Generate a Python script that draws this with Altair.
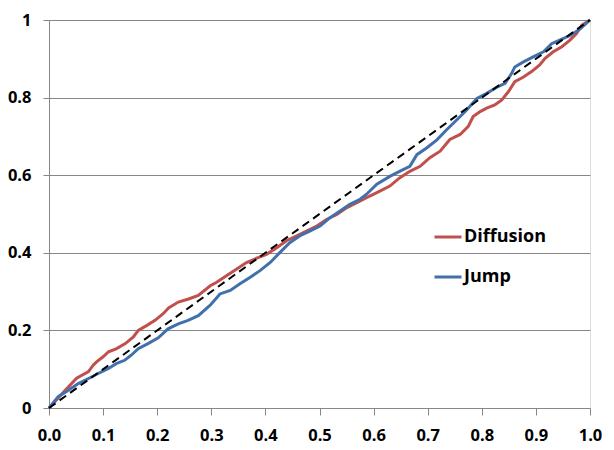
import altair as alt
import pandas as pd

# Diffusion (red) series
diff_x = [0, 0.030, 0.051, 0.073, 0.082, 0.088, 0.100, 0.110, 0.125, 0.141, 0.156, 0.165, 0.181, 0.196,
          0.211, 0.221, 0.239, 0.258, 0.276, 0.298, 0.310, 0.328, 0.347, 0.365, 0.384, 0.402, 0.421, 0.439,
          0.458, 0.476, 0.495, 0.513, 0.532, 0.550, 0.569, 0.587, 0.606, 0.630, 0.648, 0.667, 0.686, 0.704,
          0.723, 0.741, 0.760, 0.775, 0.784, 0.797, 0.809, 0.824, 0.837, 0.849, 0.861, 0.877, 0.892, 0.907,
          0.917, 0.932, 0.948, 0.963, 0.975, 0.985, 1.0]
diff_y = [0, 0.046, 0.077, 0.094, 0.111, 0.119, 0.132, 0.145, 0.153, 0.166, 0.183, 0.200, 0.213, 0.226,
          0.243, 0.258, 0.273, 0.281, 0.290, 0.315, 0.324, 0.341, 0.358, 0.375, 0.386, 0.396, 0.413, 0.431,
          0.444, 0.456, 0.469, 0.486, 0.499, 0.516, 0.529, 0.542, 0.555, 0.572, 0.593, 0.610, 0.623, 0.645,
          0.662, 0.692, 0.705, 0.726, 0.751, 0.764, 0.773, 0.781, 0.794, 0.815, 0.841, 0.853, 0.867, 0.884,
          0.901, 0.918, 0.931, 0.948, 0.965, 0.987, 1.0]

# Jump (blue) series
jump_x = [0, 0.017, 0.036, 0.054, 0.073, 0.091, 0.110, 0.125, 0.140, 0.152, 0.165, 0.183, 0.202, 0.220,
          0.239, 0.257, 0.276, 0.298, 0.316, 0.335, 0.353, 0.372, 0.390, 0.409, 0.427, 0.445, 0.464, 0.482,
          0.501, 0.519, 0.538, 0.556, 0.575, 0.587, 0.606, 0.630, 0.648, 0.667, 0.680, 0.698, 0.717, 0.735,
          0.754, 0.772, 0.791, 0.809, 0.827, 0.843, 0.855, 0.861, 0.877, 0.895, 0.914, 0.929, 0.948, 0.963,
          0.982, 1.0]
jump_y = [0, 0.029, 0.046, 0.063, 0.076, 0.089, 0.102, 0.115, 0.123, 0.136, 0.153, 0.166, 0.181, 0.204,
          0.217, 0.226, 0.238, 0.265, 0.294, 0.303, 0.320, 0.337, 0.354, 0.375, 0.401, 0.426, 0.444, 0.456,
          0.469, 0.490, 0.508, 0.525, 0.538, 0.551, 0.577, 0.597, 0.610, 0.623, 0.653, 0.670, 0.691, 0.717,
          0.743, 0.768, 0.798, 0.811, 0.826, 0.837, 0.862, 0.879, 0.892, 0.905, 0.918, 0.939, 0.951, 0.960,
          0.977, 1.0]

# 45-degree reference line
diag_x = [0.0, 1.0]
diag_y = [0.0, 1.0]

series_names = ["Diffusion", "Jump"]
series_colors = ["#C0504D", "#4170AA"]
x_ticks = [round(i * 0.1, 1) for i in range(11)]
y_ticks = [0, 0.2, 0.4, 0.6, 0.8, 1.0]

df = pd.concat([
    pd.DataFrame({"x": diff_x, "y": diff_y, "series": "Diffusion", "order": range(len(diff_x))}),
    pd.DataFrame({"x": jump_x, "y": jump_y, "series": "Jump", "order": range(len(jump_x))}),
])
diag = pd.DataFrame({"x": diag_x, "y": diag_y})

FONT = "Open Sans"

xscale = alt.Scale(domain=[0, 1], nice=False)
yscale = alt.Scale(domain=[0, 1], nice=False)

xaxis = alt.Axis(values=x_ticks, format=".1f", grid=False, tickSize=7, labelPadding=12,
                 labelFlush=False, labelOverlap=False,
                 labelFontSize=16.5, labelFont=FONT, labelFontWeight="bold", labelColor="#000000",
                 domainColor="#868686", tickColor="#868686", title=None)
yaxis = alt.Axis(values=y_ticks, format="~g", grid=True, gridColor="#868686", tickSize=6,
                 labelFlush=False, labelOverlap=False,
                 labelPadding=12, labelFontSize=16.5, labelFont=FONT, labelFontWeight="bold",
                 labelColor="#000000", domainColor="#868686", tickColor="#868686", title=None)

lines = alt.Chart(df).mark_line(strokeWidth=3).encode(
    x=alt.X("x:Q", scale=xscale, axis=xaxis),
    y=alt.Y("y:Q", scale=yscale, axis=yaxis),
    order="order:Q",
    color=alt.Color("series:N", title=None,
                    scale=alt.Scale(domain=series_names, range=series_colors),
                    legend=alt.Legend(orient="none", legendX=384, legendY=202, symbolType="stroke",
                                      symbolSize=729, symbolStrokeWidth=3, labelFont=FONT,
                                      labelFontSize=18, labelFontWeight="bold", labelColor="#000000",
                                      labelOffset=1, rowPadding=16, padding=0)),
)

dashed = alt.Chart(diag).mark_line(color="#000000", strokeWidth=2, strokeDash=[8, 5]).encode(
    x=alt.X("x:Q", scale=xscale),
    y=alt.Y("y:Q", scale=yscale),
)

chart = alt.layer(lines, dashed).properties(
    width=541, height=388,
    autosize=alt.AutoSizeParams(type="none"),
    padding={"left": 41, "top": 12, "right": 16, "bottom": 40},
).configure_view(stroke=None).configure(background="#FFFFFF")

chart.save("out.html", embed_options={"renderer": "svg", "actions": False})
